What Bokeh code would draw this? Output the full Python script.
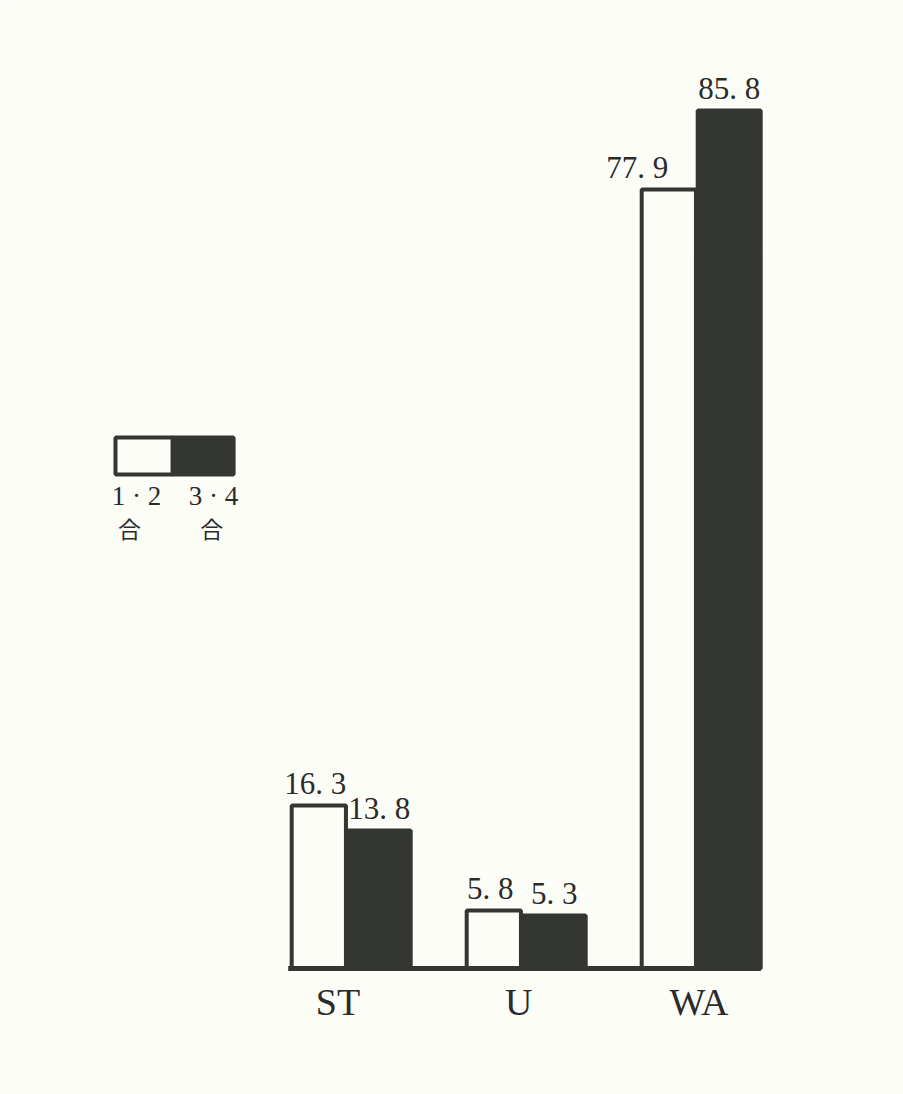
from bokeh.plotting import figure
from bokeh.models import Range1d, ColumnDataSource
from bokeh.core.properties import value
from bokeh.embed import file_html
from bokeh.resources import INLINE

# ---- data ----
categories = ["ST", "U", "WA"]
series_names = ["1・2合", "3・4合"]
vals_12 = [16.3, 5.8, 77.9]
vals_34 = [13.8, 5.3, 85.8]
labels_12 = ["16. 3", "5. 8", "77. 9"]
labels_34 = ["13. 8", "5. 3", "85. 8"]

# ---- style ----
BG = "#fdfdf8"
INK = "#333633"
TXT = "#2b2b2b"
W12 = 0.31
W34 = 0.36
OFF12 = -0.17
OFF34 = 0.175
lab12_dx = [-0.02, -0.02, -0.18]
cat_dx = [-0.063, -0.03, 0.0]

p = figure(width=903, height=1094, output_backend="svg", toolbar_location=None,
           x_range=Range1d(-1.989, 3.171), y_range=Range1d(-12.6, 96.8),
           min_border=0, background_fill_color=BG, border_fill_color=BG)
p.axis.visible = False
p.grid.visible = False
p.outline_line_color = None

xs = list(range(len(categories)))
x12 = [x + OFF12 for x in xs]
x34 = [x + OFF34 for x in xs]

src12 = ColumnDataSource(dict(x=x12, top=vals_12, lab=labels_12,
                              lx=[a + d for a, d in zip(x12, lab12_dx)]))
src34 = ColumnDataSource(dict(x=x34, top=vals_34, lab=labels_34))

p.vbar(x="x", top="top", bottom=0, width=W34, source=src34,
       fill_color=INK, line_color=INK, line_width=4)
p.vbar(x="x", top="top", bottom=0, width=W12, source=src12,
       fill_color=BG, line_color=INK, line_width=4)

# baseline
left = x12[0] - W12 / 2 - 0.02
right = x34[-1] + W34 / 2
p.line([left, right], [0, 0], line_color=INK, line_width=5)

serif = value("Liberation Serif")
p.text(x="lx", y="top", text="lab", source=src12, text_align="center",
       text_baseline="bottom", y_offset=-5, text_font=serif,
       text_font_size="31px", text_color=TXT)
p.text(x="x", y="top", text="lab", source=src34, text_align="center",
       text_baseline="bottom", y_offset=-5, text_font=serif,
       text_font_size="31px", text_color=TXT)

cat_x = [(a + b) / 2 + d for a, b, d in zip(x12, x34, cat_dx)]
p.text(x=cat_x, y=[0] * 3, text=categories, text_align="center",
       text_baseline="top", y_offset=12, text_font=serif,
       text_font_size="38px", text_color=TXT)

# legend (drawn manually)
lg_y0, lg_y1 = 49.4, 53.1
lg_x0, lg_xm, lg_x1 = -1.332, -1.006, -0.657
p.quad(left=[lg_xm], right=[lg_x1], bottom=[lg_y0], top=[lg_y1],
       fill_color=INK, line_color=INK, line_width=4)
p.quad(left=[lg_x0], right=[lg_xm], bottom=[lg_y0], top=[lg_y1],
       fill_color=BG, line_color=INK, line_width=4)
p.text(x=[(lg_x0 + lg_xm) / 2 - 0.043, (lg_xm + lg_x1) / 2 + 0.06], y=[lg_y0, lg_y0],
       text=["1 · 2", "3 · 4"], text_align="center", text_baseline="top",
       y_offset=6, text_font=serif,
       text_font_size="27px", text_color=TXT)
p.text(x=[(lg_x0 + lg_xm) / 2 - 0.083, (lg_xm + lg_x1) / 2 + 0.049], y=[lg_y0, lg_y0],
       text=["合", "合"], text_align="center", text_baseline="top",
       y_offset=36, text_font=value("Noto Sans CJK JP"),
       text_font_size="23px", text_color=TXT)

open("out.html", "w").write(file_html(p, INLINE))
